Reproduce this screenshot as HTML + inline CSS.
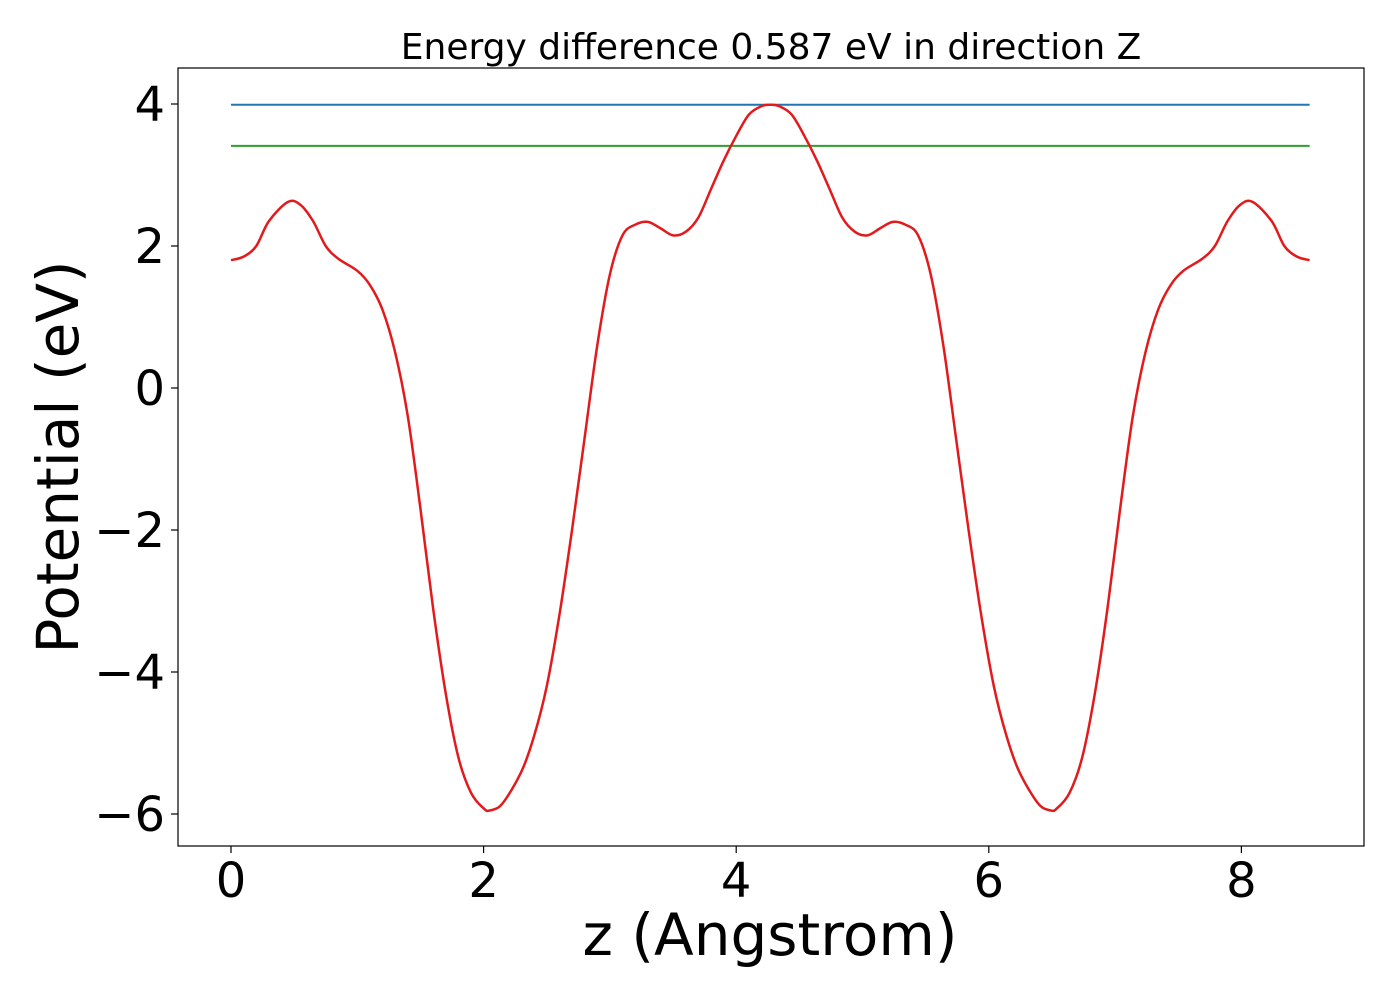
<!DOCTYPE html>
<html><head><meta charset="utf-8"><style>
body{margin:0;background:#fff}
svg text{font-family:"DejaVu Sans","Liberation Sans",sans-serif}
</style></head><body>
<svg width="1400" height="1000" xmlns="http://www.w3.org/2000/svg">
<rect width="1400" height="1000" fill="#fff"/>
<text x="771" y="59" font-size="36" text-anchor="middle">Energy difference 0.587 eV in direction Z</text>
<g id="plot"></g>
<rect x="178" y="68" width="1186" height="778" fill="none" stroke="#000" stroke-width="1.2"/>
<g id="xt"></g><g id="yt"></g>
<text x="770" y="955" font-size="58" text-anchor="middle">z (Angstrom)</text>
<text transform="translate(78,457) rotate(-90)" font-size="58" text-anchor="middle">Potential (eV)</text>
</svg>
<script>
const zVals=[0,0.1,0.2,0.3,0.45,0.55,0.65,0.75,0.85,1.0,1.1,1.2,1.3,1.4,1.5,1.6,1.7,1.8,1.9,2.0,2.05,2.15,2.3,2.4,2.5,2.6,2.7,2.8,2.9,3.0,3.1,3.2,3.3,3.4,3.5,3.6,3.7,3.8,3.9,4.0,4.1,4.2,4.27,4.34,4.44,4.54,4.64,4.74,4.84,4.94,5.04,5.14,5.24,5.34,5.44,5.54,5.64,5.74,5.84,5.94,6.04,6.14,6.24,6.39,6.49,6.54,6.64,6.74,6.84,6.94,7.04,7.14,7.24,7.34,7.44,7.54,7.69,7.79,7.89,7.99,8.09,8.24,8.34,8.44,8.54];
const vVals=[1.80,1.85,2.0,2.35,2.62,2.58,2.35,2.0,1.82,1.65,1.45,1.1,0.5,-0.4,-1.7,-3.1,-4.3,-5.2,-5.7,-5.92,-5.95,-5.85,-5.4,-4.9,-4.2,-3.2,-2.0,-0.7,0.6,1.6,2.15,2.3,2.34,2.25,2.15,2.2,2.4,2.8,3.2,3.55,3.85,3.97,3.99,3.97,3.85,3.55,3.2,2.8,2.4,2.2,2.15,2.25,2.34,2.3,2.15,1.6,0.6,-0.7,-2.0,-3.2,-4.2,-4.9,-5.4,-5.85,-5.95,-5.92,-5.7,-5.2,-4.3,-3.1,-1.7,-0.4,0.5,1.1,1.45,1.65,1.82,2.0,2.35,2.58,2.62,2.35,2.0,1.85,1.80];
const blueLevel=3.99, greenLevel=3.41;
const xTicks=[0,2,4,6,8], yTicks=[-6,-4,-2,0,2,4];
const X=v=>231+v*126.3, Y=v=>388-v*71;
const ns="http://www.w3.org/2000/svg";
const plot=document.getElementById('plot');
function line(x1,y1,x2,y2,c,w,p){const l=document.createElementNS(ns,'line');l.setAttribute('x1',x1);l.setAttribute('y1',y1);l.setAttribute('x2',x2);l.setAttribute('y2',y2);l.setAttribute('stroke',c);l.setAttribute('stroke-width',w);p.appendChild(l);return l;}
const b=line(X(0),Y(blueLevel),X(8.54),Y(blueLevel),'#1f77b4',2,plot);


const g=line(X(0),Y(greenLevel),X(8.54),Y(greenLevel),'#2ca02c',2,plot);


const pl=document.createElementNS(ns,'path');
let d='';
for(let i=0;i<zVals.length;i++){
 if(i===0){d+='M'+X(zVals[0])+','+Y(vVals[0]);continue;}
 const p0=i>1?[X(zVals[i-2]),Y(vVals[i-2])]:[X(zVals[i-1]),Y(vVals[i-1])];
 const p1=[X(zVals[i-1]),Y(vVals[i-1])],p2=[X(zVals[i]),Y(vVals[i])];
 const p3=i<zVals.length-1?[X(zVals[i+1]),Y(vVals[i+1])]:p2;
 d+=' C'+(p1[0]+(p2[0]-p0[0])/6)+','+(p1[1]+(p2[1]-p0[1])/6)+' '+(p2[0]-(p3[0]-p1[0])/6)+','+(p2[1]-(p3[1]-p1[1])/6)+' '+p2[0]+','+p2[1];
}
pl.setAttribute('d',d);pl.setAttribute('fill','none');pl.setAttribute('stroke','#e31a1c');pl.setAttribute('stroke-width','2.5');


plot.appendChild(pl);
const xt=document.getElementById('xt'),yt=document.getElementById('yt');
xTicks.forEach(v=>{
 line(X(v),846,X(v),853,'#000',1.2,xt);
 const t=document.createElementNS(ns,'text');t.setAttribute('x',X(v));t.setAttribute('y',897);t.setAttribute('font-size','48');t.setAttribute('text-anchor','middle');t.textContent=v;
 
 
 xt.appendChild(t);
});
yTicks.forEach(v=>{
 line(171,Y(v),178,Y(v),'#000',1.2,yt);
 const t=document.createElementNS(ns,'text');t.setAttribute('x',165);t.setAttribute('y',Y(v)+17);t.setAttribute('font-size','48');t.setAttribute('text-anchor','end');t.textContent=v<0?'\u2212'+(-v):v;
 
 
 yt.appendChild(t);
});
</script>
</body></html>
